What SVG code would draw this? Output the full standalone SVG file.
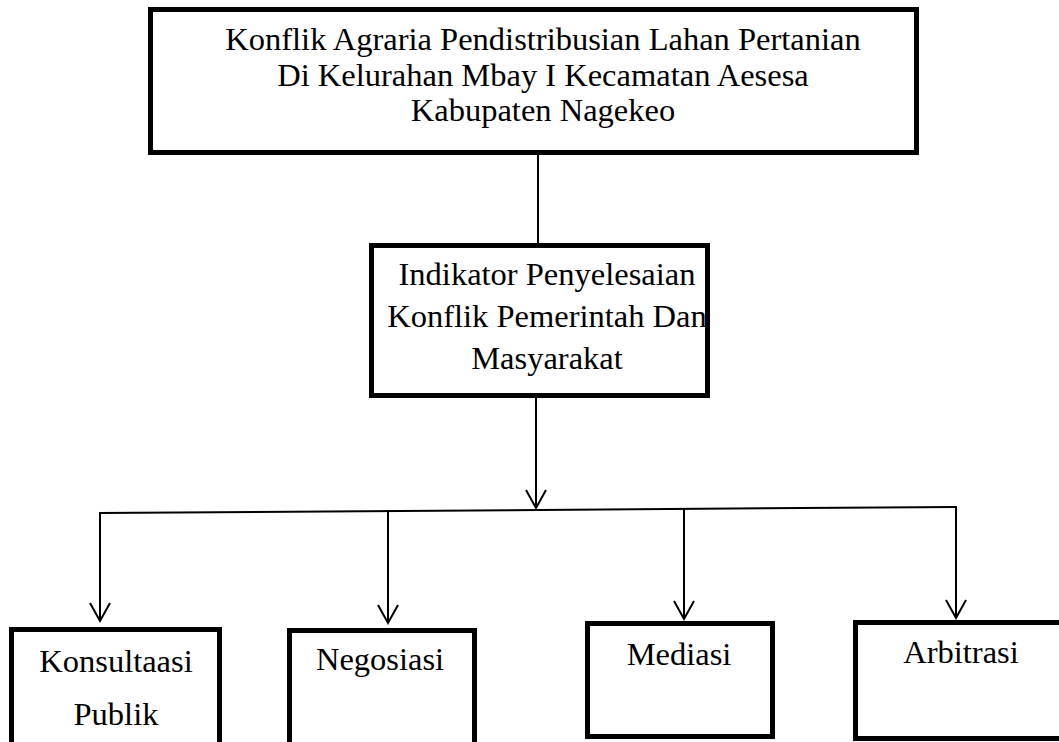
<svg xmlns="http://www.w3.org/2000/svg" width="1059" height="742" viewBox="0 0 1059 742">
<style>
.box{fill:#fff;stroke:#000;stroke-width:5}
.t{font-family:"Liberation Serif","Times New Roman",serif;font-size:32.5px;fill:#000;text-anchor:middle}
.c{fill:none;stroke:#000;stroke-width:2}
</style>
<defs>
<marker id="arr" markerUnits="userSpaceOnUse" markerWidth="24" markerHeight="24" viewBox="-21 -12 24 24" refX="0" refY="0" orient="auto">
<path d="M-18,-10 L0,0 L-18,10" fill="none" stroke="#000" stroke-width="2"/>
</marker>
</defs>
<rect width="1059" height="742" fill="#fff"/>
<g id="connectors">
<line class="c" x1="538" y1="155" x2="538" y2="243"/>
<line class="c" x1="536" y1="398" x2="536" y2="508" marker-end="url(#arr)"/>
<line class="c" x1="99" y1="513" x2="957" y2="507"/>
<line class="c" x1="100" y1="512" x2="100" y2="621" marker-end="url(#arr)"/>
<line class="c" x1="388" y1="510" x2="388" y2="623" marker-end="url(#arr)"/>
<line class="c" x1="684" y1="508" x2="684" y2="619" marker-end="url(#arr)"/>
<line class="c" x1="956" y1="507" x2="956" y2="618" marker-end="url(#arr)"/>
</g>
<g id="top">
<rect class="box" x="150.5" y="9.5" width="766" height="143"/>
<text class="t" x="543" y="50">Konflik Agraria Pendistribusian Lahan Pertanian</text>
<text class="t" x="543" y="86">Di Kelurahan Mbay I Kecamatan Aesesa</text>
<text class="t" x="543" y="121">Kabupaten Nagekeo</text>
</g>
<g id="indikator">
<rect class="box" x="371.5" y="245.5" width="336" height="150"/>
<text class="t" x="547" y="285">Indikator Penyelesaian</text>
<text class="t" x="547" y="327">Konflik Pemerintah Dan</text>
<text class="t" x="547" y="369">Masyarakat</text>
</g>
<g id="konsultasi">
<rect class="box" x="11.5" y="629.5" width="208" height="150"/>
<text class="t" x="116" y="672">Konsultaasi</text>
<text class="t" x="116" y="725">Publik</text>
</g>
<g id="negosiasi">
<rect class="box" x="289.5" y="630.5" width="185" height="150"/>
<text class="t" x="380" y="670">Negosiasi</text>
</g>
<g id="mediasi">
<rect class="box" x="587.5" y="623.5" width="185" height="113"/>
<text class="t" x="679" y="665">Mediasi</text>
</g>
<g id="arbitrasi">
<rect class="box" x="855.5" y="622.5" width="220" height="116"/>
<text class="t" x="961" y="663">Arbitrasi</text>
</g>
</svg>
